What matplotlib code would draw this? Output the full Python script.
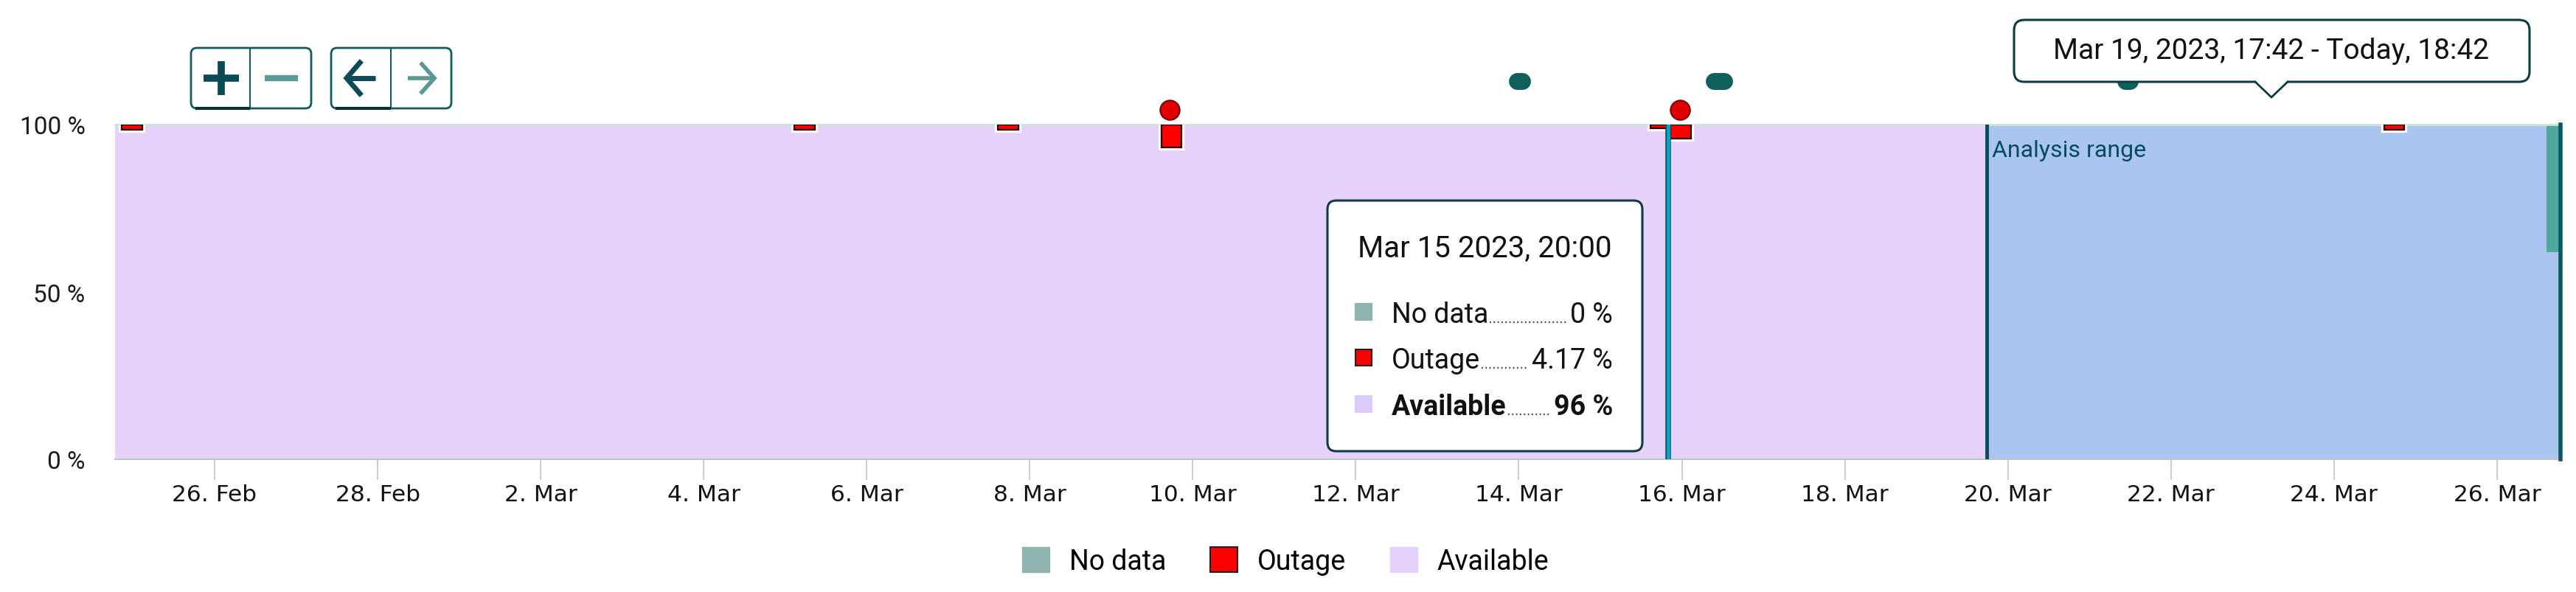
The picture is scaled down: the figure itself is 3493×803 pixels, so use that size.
import numpy as np
import pandas as pd
import matplotlib
matplotlib.use("Agg")
import matplotlib.pyplot as plt
import matplotlib.dates as mdates
import matplotlib.patheffects as pe
from matplotlib.patches import FancyBboxPatch, Rectangle, Polygon, Patch

# ---- values ----
range_start = pd.Timestamp("2023-02-24 18:42")
range_end = pd.Timestamp("2023-03-26 18:42")
analysis_start = pd.Timestamp("2023-03-19 17:42")
hover_time = pd.Timestamp("2023-03-15 20:00")
bucket_hours = 6

outage_times = pd.to_datetime(["2023-02-24 23:42", "2023-03-05 05:42", "2023-03-07 17:42",
                               "2023-03-09 17:42", "2023-03-15 17:42", "2023-03-15 23:42",
                               "2023-03-24 17:42"])
outage_pct = [1.6, 1.6, 1.6, 6.8, 1.2, 4.17, 1.6]

outage_event_times = pd.to_datetime(["2023-03-09 17:15", "2023-03-15 23:30"])

nodata_event_start = pd.to_datetime(["2023-03-13 23:25", "2023-03-16 09:30", "2023-03-21 10:30"])
nodata_event_end = pd.to_datetime(["2023-03-14 01:05", "2023-03-16 12:30", "2023-03-21 12:00"])

nodata_tail_start = pd.Timestamp("2023-03-26 14:40")
nodata_tail_pct = 38

tick_dates = pd.date_range("2023-02-26", "2023-03-26", freq="2D")
tick_labels = ["26. Feb", "28. Feb", "2. Mar", "4. Mar", "6. Mar", "8. Mar", "10. Mar", "12. Mar",
               "14. Mar", "16. Mar", "18. Mar", "20. Mar", "22. Mar", "24. Mar", "26. Mar"]
y_ticks = [0, 50, 100]
y_labels = ["0 %", "50 %", "100 %"]

series_names = ["No data", "Outage", "Available"]
tooltip_title = "Mar 15 2023, 20:00"
tooltip_values = ["0 %", "4.17 %", "96 %"]
range_label = "Mar 19, 2023, 17:42 - Today, 18:42"

# colours
c_nodata = "#8fb3ae"
c_outage = "#ff0000"
c_avail = "#e6d1fb"
c_analysis = "#aac6f0"
c_dark = "#0b4a57"

W, H = 3493, 804
fig = plt.figure(figsize=(W / 100, H / 100), dpi=100)
ax = fig.add_axes([156 / W, 1 - 624 / H, (3472 - 156) / W, (624 - 170) / H])

def num(t):
    return mdates.date2num(pd.to_datetime(t).to_pydatetime() if hasattr(t, "__len__") else t.to_pydatetime())

x0, x1 = num(range_start), num(range_end)
bw = bucket_hours / 24

# availability background and analysis range
ax.fill_between([x0, x1], 0, 100, color=c_avail, lw=0, zorder=0.5)
ax.axvspan(num(analysis_start), x1, color=c_analysis, lw=0, zorder=1)
ax.bar(num(nodata_tail_start), nodata_tail_pct, bottom=100 - nodata_tail_pct,
       width=x1 - num(nodata_tail_start), align="edge", color="#4fa89e", lw=0, zorder=2)

# outage buckets stacked on top
halo = [pe.withStroke(linewidth=6, foreground="white")]
bars = ax.bar(num(outage_times), outage_pct, bottom=100 - np.array(outage_pct), width=bw,
              color=c_outage, edgecolor="#1a0000", linewidth=1.6, zorder=3)
for b in bars:
    b.set_path_effects(halo)

# range lines
ax.axvline(num(analysis_start), color=c_dark, lw=3.5, zorder=4)
ax.axvline(x1, color="#0a5664", lw=4, zorder=4, clip_on=False)
ax.axvline(num(hover_time), color="#0aa3c2", lw=3.5, zorder=4,
           path_effects=[pe.withStroke(linewidth=5.5, foreground="#0b5565")])
ax.annotate("Analysis range", (num(analysis_start), 92.3), xytext=(5, 0), textcoords="offset points",
            ha="left", va="center", fontsize=23, color="#064d5b", family="Roboto", zorder=5)

# event markers above the plot
ax.plot(num(outage_event_times), [104.4] * len(outage_event_times), "o", ms=19, color="#e00000",
        mec="#7a0000", mew=1.5, clip_on=False, zorder=5)
for s, e in zip(nodata_event_start, nodata_event_end):
    ax.plot([num(s), num(e)], [113, 113], color="#0f5f5b", lw=16.5, solid_capstyle="round",
            clip_on=False, zorder=5)

ax.set_xlim(x0, x1)
ax.set_ylim(0, 100)
ax.set_xticks(num(tick_dates))
ax.set_xticklabels(tick_labels, fontsize=22.5, color="#111111", family="DejaVu Sans")
ax.tick_params(axis="x", length=20, width=1.5, color="#c6d0d0", pad=4)
ax.set_yticks(y_ticks)
ax.set_yticklabels(y_labels, fontsize=24, color="#1a1a1a", family="Roboto")
ax.tick_params(axis="y", length=0, pad=29)
for side in ["left", "right"]:
    ax.spines[side].set_visible(False)
ax.spines["top"].set_color("#cde3d4")
ax.spines["top"].set_linewidth(2)
ax.spines["bottom"].set_color("#b9c9c9")
ax.spines["bottom"].set_linewidth(1.5)

# legend
handles = [Patch(fc=c_nodata, ec=c_nodata), Patch(fc=c_outage, ec="#222222", lw=1.5),
           Patch(fc=c_avail, ec=c_avail)]
fig.legend(handles, series_names, loc="center", bbox_to_anchor=(1743 / W, 1 - 762 / H), ncol=3,
           frameon=False, prop={"family": "Roboto", "size": 27}, handlelength=1.0, handleheight=1.0,
           handletextpad=0.7, columnspacing=1.6)

# overlay in pixel coords for the ui widgets
ov = fig.add_axes([0, 0, 1, 1], zorder=10)
ov.set_xlim(0, W)
ov.set_ylim(H, 0)
ov.axis("off")

# zoom / pan buttons
for bx, dv in [(259, 339), (449, 530)]:
    ov.add_patch(FancyBboxPatch((bx, 66), 163, 82, boxstyle="round,pad=0,rounding_size=8",
                                fc="white", ec="#0d5c62", lw=2))
    ov.plot([dv, dv], [66, 148], color="#0d5c62", lw=1.5)
    ov.plot([bx + 6, dv], [148, 148], color="#0a2e33", lw=3, solid_capstyle="butt")
ov.plot([276, 324], [107, 107], color=c_dark, lw=7, solid_capstyle="butt")
ov.plot([300, 300], [84, 130], color=c_dark, lw=7, solid_capstyle="butt")
ov.plot([359, 404], [107, 107], color="#5a9896", lw=6, solid_capstyle="butt")
ov.plot([470, 509], [107, 107], color=c_dark, lw=5, solid_capstyle="butt")
ov.plot([488, 470, 488], [86, 107, 128], color=c_dark, lw=5, solid_joinstyle="miter")
ov.plot([553, 589], [107, 107], color="#5a9896", lw=4, solid_capstyle="butt")
ov.plot([572, 589, 572], [88, 107, 126], color="#5a9896", lw=4, solid_joinstyle="miter")

# analysis range tooltip
ov.add_patch(FancyBboxPatch((2731, 28), 699, 84, boxstyle="round,pad=0,rounding_size=14",
                            fc="white", ec="#0b3c44", lw=2.2))
ov.add_patch(Polygon([(3058, 110), (3080, 133), (3102, 110)], closed=True, fc="white", ec="none"))
ov.plot([3058, 3080, 3102], [112, 133, 112], color="#0b3c44", lw=2)
ov.text(3080, 70, range_label, ha="center", va="center", fontsize=28, color="#111111", family="Roboto")

# hover tooltip
ov.add_patch(FancyBboxPatch((1800, 273), 427, 340, boxstyle="round,pad=0,rounding_size=12",
                            fc="white", ec="#0b3c44", lw=2.2))
ov.text(2013, 337, tooltip_title, ha="center", va="center", fontsize=29, color="#111111", family="Roboto")
row_y = [438, 500, 563]
sq_fc = [c_nodata, c_outage, "#dccbf8"]
sq_ec = [c_nodata, "#222222", "#dccbf8"]
fig.canvas.draw()
inv = ov.transData.inverted()
for i, name in enumerate(series_names):
    wt = "bold" if name == "Available" else "normal"
    ov.add_patch(Rectangle((1838, row_y[i] - 25), 22, 22, fc=sq_fc[i], ec=sq_ec[i], lw=1.5))
    t1 = ov.text(1887, row_y[i], name, ha="left", va="baseline", fontsize=27, color="#111111",
                 family="Roboto", weight=wt)
    t2 = ov.text(2187, row_y[i], tooltip_values[i], ha="right", va="baseline", fontsize=27,
                 color="#111111", family="Roboto", weight=wt)
    r = fig.canvas.get_renderer()
    e1 = inv.transform(t1.get_window_extent(r))
    e2 = inv.transform(t2.get_window_extent(r))
    ov.plot([e1[1][0] + 2, e2[0][0] - 4], [row_y[i], row_y[i]], color="#444444", lw=1.6,
            ls=(0, (0.8, 1.6)))

fig.savefig("out.png", dpi=100, facecolor="white")
